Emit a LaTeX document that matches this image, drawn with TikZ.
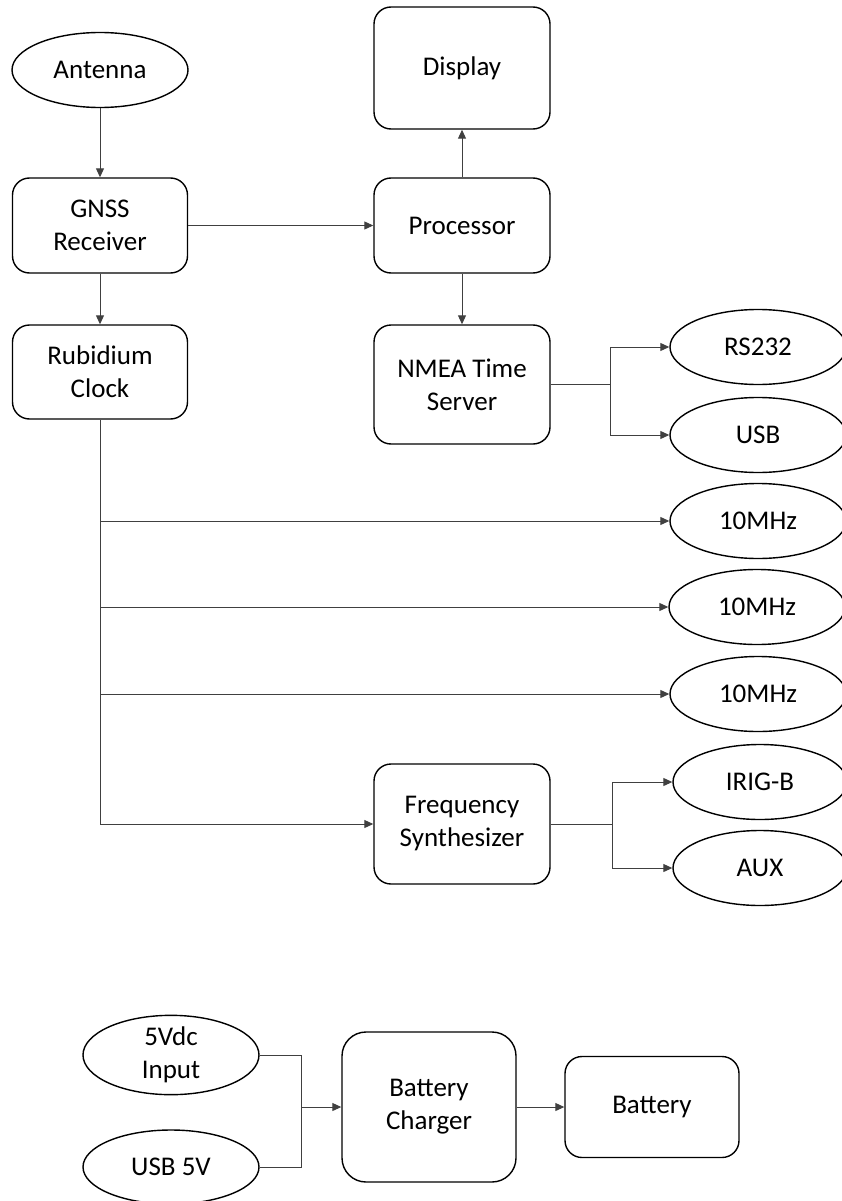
\documentclass[tikz,border=0pt]{standalone}
\usepackage{fontspec}
\setmainfont{Carlito}
\usetikzlibrary{shapes.geometric,arrows.meta,calc}
\begin{document}
\begin{tikzpicture}[x=1pt,y=-1pt,
  every node/.style={font=\fontsize{27}{33}\selectfont, align=center, inner sep=0pt},
  blk/.style={draw=black, line width=1.4pt, rounded corners=17pt, minimum width=175pt},
  oval/.style={ellipse, draw=black, line width=1.4pt, minimum width=176pt, minimum height=75pt},
  conn/.style={draw=black!75, line width=1pt},
  arr/.style={conn, -{Triangle[length=9pt,width=8pt]}}
]
\clip (0,0) rectangle (842,1201);
% top section
\node[oval] (ant) at (100,70) {Antenna};
\node[blk, minimum height=95pt] (gnss) at (100,225.5) {GNSS\\Receiver};
\node[blk, minimum height=94pt] (rb) at (100,372) {Rubidium\\Clock};
\node[blk, minimum width=176pt, minimum height=122pt] (disp) at (462,68) {Display};
\node[blk, minimum width=176pt, minimum height=95pt] (proc) at (462,225.5) {Processor};
\node[blk, minimum width=176pt, minimum height=119pt] (nmea) at (462,384.5) {NMEA Time\\Server};
\node[oval] (rs) at (758,347) {RS232};
\node[oval] (usb) at (758,435) {USB};
\node[oval] (m1) at (758,521) {10MHz};
\node[oval] (m2) at (757,607) {10MHz};
\node[oval] (m3) at (758,694) {10MHz};
\node[blk, minimum width=176pt, minimum height=120pt] (fs) at (462,824) {Frequency\\Synthesizer};
\node[oval, minimum width=174pt] (irig) at (760,782) {IRIG-B};
\node[oval, minimum width=174pt] (aux) at (760,868) {AUX};
% bottom section
\node[oval, minimum height=74pt] (v5) at (171,1055) {5Vdc\\Input};
\node[oval, minimum height=74pt] (u5) at (171,1167) {USB 5V};
\node[blk, minimum width=174pt, minimum height=150pt, rounded corners=24pt] (chg) at (429,1107) {Battery\\Charger};
\node[blk, minimum width=174pt, minimum height=101pt] (bat) at (652,1107) {Battery};

% junction coordinates
\coordinate (nj) at (610,384.5);
\coordinate (fj) at (612,824);
\coordinate (pj) at (301,1107);
\coordinate (b1) at (rb.south |- m1.west);
\coordinate (b2) at (rb.south |- m2.west);
\coordinate (b3) at (rb.south |- m3.west);

% connectors
\draw[arr] (ant.south) -- (gnss.north);
\draw[arr] (gnss.east) -- (proc.west);
\draw[arr] (gnss.south) -- (rb.north);
\draw[arr] (proc.north) -- (disp.south);
\draw[arr] (proc.south) -- (nmea.north);
\draw[conn] (nmea.east) -- (nj);
\draw[arr] (nj) |- (rs.west);
\draw[arr] (nj) |- (usb.west);
\draw[arr] (rb.south) |- (fs.west);
\draw[arr] (b1) -- (m1.west);
\draw[arr] (b2) -- (m2.west);
\draw[arr] (b3) -- (m3.west);
\draw[conn] (fs.east) -- (fj);
\draw[arr] (fj) |- (irig.west);
\draw[arr] (fj) |- (aux.west);
\draw[conn] (v5.east) -| (pj);
\draw[conn] (u5.east) -| (pj);
\draw[arr] (pj) -- (chg.west);
\draw[arr] (chg.east) -- (bat.west);
\end{tikzpicture}
\end{document}
